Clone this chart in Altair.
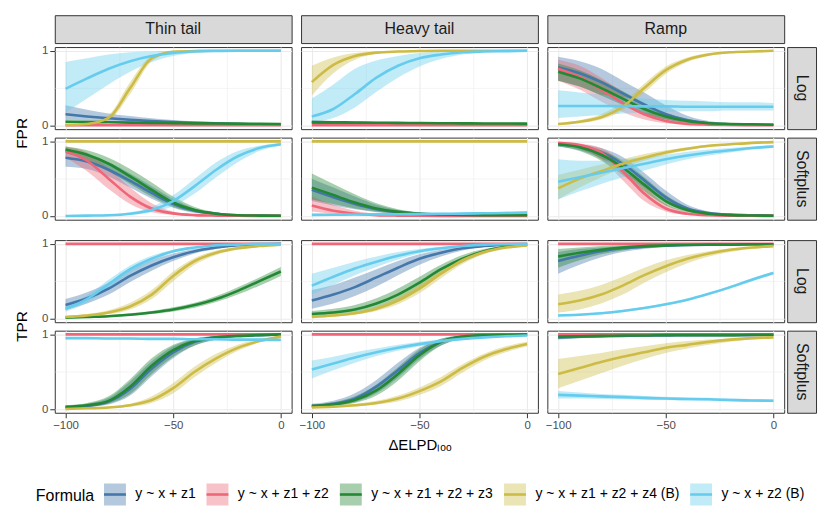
import altair as alt
import pandas as pd

X = [-100, -90, -80, -70, -60, -50, -40, -30, -20, -10, 0]
FORMULAS = ["y ~ x + z1", "y ~ x + z1 + z2", "y ~ x + z1 + z2 + z3",
            "y ~ x + z1 + z2 + z4 (B)", "y ~ x + z2 (B)"]
COLORS = ["#4477AA", "#EE6677", "#228833", "#CCBB44", "#66CCEE"]
RIBBON_COLORS = ["rgba(68,119,170,0.4)", "rgba(238,102,119,0.4)", "rgba(34,136,51,0.4)",
                 "rgba(204,187,68,0.4)", "rgba(102,204,238,0.4)"]
TAILS = ["Thin tail", "Heavy tail", "Ramp"]
LINKS = ["Log", "Softplus"]
METRICS = ["FPR", "TPR"]

# ---------------- FPR / Log ----------------
FPR_LOG_THIN_MEAN = [
    [0.15, 0.12, 0.095, 0.075, 0.058, 0.045, 0.035, 0.027, 0.02, 0.015, 0.012],
    [0.004, 0.004, 0.003, 0.003, 0.003, 0.002, 0.002, 0.002, 0.002, 0.002, 0.002],
    [0.05, 0.046, 0.042, 0.038, 0.034, 0.031, 0.028, 0.026, 0.024, 0.022, 0.02],
    [0.005, 0.02, 0.1, 0.5, 0.9, 0.985, 0.998, 1.0, 1.0, 1.0, 1.0],
    [0.49, 0.63, 0.76, 0.86, 0.93, 0.97, 0.99, 0.997, 1.0, 1.0, 1.0]]
FPR_LOG_THIN_LO = [
    [0.07, 0.06, 0.05, 0.04, 0.032, 0.025, 0.019, 0.014, 0.011, 0.008, 0.006],
    [0.0, 0.0, 0.0, 0.0, 0.0, 0.0, 0.0, 0.0, 0.0, 0.0, 0.0],
    [0.035, 0.033, 0.031, 0.028, 0.025, 0.023, 0.021, 0.019, 0.017, 0.016, 0.015],
    [0.0, 0.01, 0.07, 0.42, 0.86, 0.975, 0.995, 1.0, 1.0, 1.0, 1.0],
    [0.17, 0.36, 0.55, 0.72, 0.85, 0.93, 0.97, 0.99, 1.0, 1.0, 1.0]]
FPR_LOG_THIN_HI = [
    [0.27, 0.21, 0.16, 0.125, 0.095, 0.072, 0.055, 0.042, 0.032, 0.025, 0.02],
    [0.012, 0.01, 0.009, 0.008, 0.007, 0.006, 0.005, 0.005, 0.004, 0.004, 0.004],
    [0.065, 0.06, 0.055, 0.05, 0.045, 0.04, 0.036, 0.033, 0.031, 0.029, 0.027],
    [0.012, 0.035, 0.14, 0.58, 0.93, 0.99, 1.0, 1.0, 1.0, 1.0, 1.0],
    [0.85, 0.9, 0.95, 0.98, 0.99, 1.0, 1.0, 1.0, 1.0, 1.0, 1.0]]

FPR_LOG_HEAVY_MEAN = [
    [0.035, 0.03, 0.025, 0.021, 0.018, 0.015, 0.013, 0.012, 0.011, 0.01, 0.01],
    [0.003, 0.003, 0.003, 0.003, 0.003, 0.003, 0.003, 0.003, 0.003, 0.003, 0.003],
    [0.045, 0.042, 0.039, 0.036, 0.034, 0.032, 0.03, 0.028, 0.026, 0.025, 0.024],
    [0.58, 0.81, 0.93, 0.975, 0.99, 0.997, 1.0, 1.0, 1.0, 1.0, 1.0],
    [0.12, 0.22, 0.42, 0.64, 0.8, 0.9, 0.95, 0.98, 0.99, 0.995, 1.0]]
FPR_LOG_HEAVY_LO = [
    [0.015, 0.013, 0.011, 0.01, 0.009, 0.008, 0.007, 0.006, 0.006, 0.005, 0.005],
    [0.0, 0.0, 0.0, 0.0, 0.0, 0.0, 0.0, 0.0, 0.0, 0.0, 0.0],
    [0.03, 0.028, 0.026, 0.024, 0.023, 0.022, 0.02, 0.019, 0.018, 0.017, 0.016],
    [0.4, 0.7, 0.88, 0.96, 0.985, 0.995, 1.0, 1.0, 1.0, 1.0, 1.0],
    [0.04, 0.1, 0.24, 0.45, 0.64, 0.79, 0.89, 0.95, 0.98, 0.99, 1.0]]
FPR_LOG_HEAVY_HI = [
    [0.07, 0.058, 0.048, 0.04, 0.034, 0.029, 0.025, 0.022, 0.02, 0.018, 0.017],
    [0.01, 0.01, 0.01, 0.01, 0.01, 0.01, 0.01, 0.01, 0.01, 0.01, 0.01],
    [0.06, 0.057, 0.053, 0.05, 0.047, 0.044, 0.041, 0.039, 0.037, 0.035, 0.033],
    [0.8, 0.91, 0.97, 0.99, 1.0, 1.0, 1.0, 1.0, 1.0, 1.0, 1.0],
    [0.36, 0.55, 0.76, 0.87, 0.93, 0.97, 0.99, 1.0, 1.0, 1.0, 1.0]]

FPR_LOG_RAMP_MEAN = [
    [0.78, 0.7, 0.58, 0.43, 0.28, 0.15, 0.07, 0.03, 0.015, 0.01, 0.01],
    [0.76, 0.65, 0.48, 0.3, 0.15, 0.06, 0.02, 0.01, 0.005, 0.003, 0.002],
    [0.72, 0.63, 0.5, 0.36, 0.22, 0.12, 0.06, 0.03, 0.02, 0.015, 0.01],
    [0.02, 0.05, 0.11, 0.25, 0.5, 0.74, 0.88, 0.95, 0.98, 0.99, 1.0],
    [0.26, 0.26, 0.26, 0.26, 0.255, 0.255, 0.25, 0.25, 0.25, 0.25, 0.25]]
FPR_LOG_RAMP_LO = [
    [0.6, 0.52, 0.4, 0.28, 0.16, 0.08, 0.03, 0.01, 0.005, 0.003, 0.003],
    [0.6, 0.48, 0.32, 0.18, 0.08, 0.03, 0.01, 0.004, 0.002, 0.001, 0.001],
    [0.6, 0.52, 0.4, 0.27, 0.15, 0.08, 0.035, 0.018, 0.01, 0.008, 0.006],
    [0.01, 0.03, 0.08, 0.2, 0.44, 0.69, 0.85, 0.93, 0.97, 0.985, 0.995],
    [0.1, 0.12, 0.14, 0.16, 0.17, 0.18, 0.19, 0.19, 0.2, 0.2, 0.2]]
FPR_LOG_RAMP_HI = [
    [0.92, 0.86, 0.76, 0.6, 0.44, 0.27, 0.13, 0.06, 0.03, 0.02, 0.02],
    [0.88, 0.8, 0.64, 0.45, 0.26, 0.12, 0.05, 0.02, 0.01, 0.006, 0.004],
    [0.83, 0.74, 0.61, 0.46, 0.3, 0.17, 0.09, 0.045, 0.03, 0.022, 0.016],
    [0.03, 0.07, 0.15, 0.31, 0.56, 0.79, 0.91, 0.97, 0.99, 0.995, 1.0],
    [0.47, 0.44, 0.41, 0.38, 0.36, 0.34, 0.33, 0.32, 0.31, 0.31, 0.3]]

# ---------------- FPR / Softplus ----------------
FPR_SOFT_THIN_MEAN = [
    [0.78, 0.73, 0.62, 0.47, 0.31, 0.16, 0.07, 0.03, 0.01, 0.005, 0.003],
    [0.87, 0.74, 0.5, 0.26, 0.1, 0.035, 0.012, 0.005, 0.002, 0.001, 0.001],
    [0.89, 0.82, 0.7, 0.53, 0.35, 0.18, 0.08, 0.03, 0.01, 0.005, 0.003],
    [1.0, 1.0, 1.0, 1.0, 1.0, 1.0, 1.0, 1.0, 1.0, 1.0, 1.0],
    [0.0, 0.005, 0.01, 0.03, 0.08, 0.2, 0.4, 0.62, 0.8, 0.91, 0.96]]
FPR_SOFT_THIN_LO = [
    [0.66, 0.63, 0.53, 0.38, 0.23, 0.11, 0.04, 0.015, 0.005, 0.002, 0.001],
    [0.78, 0.6, 0.36, 0.16, 0.05, 0.015, 0.005, 0.002, 0.001, 0.0, 0.0],
    [0.84, 0.75, 0.6, 0.43, 0.26, 0.12, 0.05, 0.02, 0.005, 0.002, 0.001],
    [0.995, 0.995, 0.995, 0.995, 0.995, 0.995, 0.995, 0.995, 0.995, 0.995, 0.995],
    [0.0, 0.002, 0.005, 0.015, 0.05, 0.13, 0.3, 0.52, 0.72, 0.87, 0.94]]
FPR_SOFT_THIN_HI = [
    [0.86, 0.82, 0.72, 0.57, 0.4, 0.23, 0.1, 0.045, 0.02, 0.01, 0.006],
    [0.93, 0.85, 0.64, 0.38, 0.17, 0.06, 0.02, 0.008, 0.004, 0.002, 0.002],
    [0.93, 0.88, 0.78, 0.63, 0.45, 0.26, 0.12, 0.05, 0.02, 0.01, 0.006],
    [1.0, 1.0, 1.0, 1.0, 1.0, 1.0, 1.0, 1.0, 1.0, 1.0, 1.0],
    [0.01, 0.01, 0.02, 0.05, 0.12, 0.28, 0.5, 0.72, 0.87, 0.94, 0.98]]

FPR_SOFT_HEAVY_MEAN = [
    [0.35, 0.25, 0.16, 0.09, 0.05, 0.028, 0.018, 0.013, 0.01, 0.01, 0.01],
    [0.14, 0.07, 0.03, 0.012, 0.005, 0.002, 0.001, 0.001, 0.001, 0.001, 0.001],
    [0.38, 0.28, 0.18, 0.1, 0.055, 0.03, 0.02, 0.015, 0.012, 0.01, 0.01],
    [1.0, 1.0, 1.0, 1.0, 1.0, 1.0, 1.0, 1.0, 1.0, 1.0, 1.0],
    [0.015, 0.017, 0.019, 0.021, 0.023, 0.026, 0.029, 0.032, 0.036, 0.04, 0.045]]
FPR_SOFT_HEAVY_LO = [
    [0.2, 0.14, 0.09, 0.05, 0.025, 0.014, 0.009, 0.006, 0.005, 0.005, 0.005],
    [0.06, 0.03, 0.01, 0.004, 0.001, 0.0, 0.0, 0.0, 0.0, 0.0, 0.0],
    [0.22, 0.16, 0.1, 0.055, 0.03, 0.015, 0.01, 0.008, 0.006, 0.005, 0.005],
    [0.995, 0.995, 0.995, 0.995, 0.995, 0.995, 0.995, 0.995, 0.995, 0.995, 0.995],
    [0.005, 0.006, 0.008, 0.01, 0.012, 0.014, 0.016, 0.019, 0.022, 0.025, 0.028]]
FPR_SOFT_HEAVY_HI = [
    [0.5, 0.38, 0.26, 0.15, 0.08, 0.045, 0.03, 0.02, 0.016, 0.015, 0.015],
    [0.26, 0.15, 0.07, 0.03, 0.012, 0.006, 0.003, 0.002, 0.002, 0.002, 0.002],
    [0.57, 0.43, 0.29, 0.17, 0.09, 0.05, 0.03, 0.022, 0.018, 0.015, 0.015],
    [1.0, 1.0, 1.0, 1.0, 1.0, 1.0, 1.0, 1.0, 1.0, 1.0, 1.0],
    [0.03, 0.032, 0.034, 0.036, 0.038, 0.041, 0.044, 0.048, 0.052, 0.057, 0.063]]

FPR_SOFT_RAMP_MEAN = [
    [0.96, 0.93, 0.85, 0.7, 0.48, 0.25, 0.1, 0.04, 0.018, 0.01, 0.007],
    [0.98, 0.95, 0.85, 0.6, 0.3, 0.1, 0.03, 0.01, 0.004, 0.002, 0.001],
    [0.96, 0.92, 0.82, 0.65, 0.42, 0.2, 0.08, 0.03, 0.012, 0.006, 0.004],
    [0.37, 0.5, 0.6, 0.7, 0.78, 0.85, 0.9, 0.94, 0.96, 0.98, 0.99],
    [0.46, 0.52, 0.58, 0.64, 0.7, 0.76, 0.81, 0.85, 0.88, 0.91, 0.93]]
FPR_SOFT_RAMP_LO = [
    [0.93, 0.88, 0.77, 0.6, 0.38, 0.18, 0.06, 0.025, 0.01, 0.005, 0.003],
    [0.96, 0.9, 0.76, 0.48, 0.2, 0.06, 0.015, 0.005, 0.002, 0.001, 0.0],
    [0.93, 0.87, 0.74, 0.55, 0.33, 0.14, 0.05, 0.018, 0.007, 0.003, 0.002],
    [0.22, 0.38, 0.52, 0.64, 0.74, 0.82, 0.88, 0.92, 0.95, 0.97, 0.98],
    [0.22, 0.33, 0.43, 0.52, 0.61, 0.69, 0.76, 0.81, 0.85, 0.89, 0.91]]
FPR_SOFT_RAMP_HI = [
    [0.98, 0.96, 0.91, 0.79, 0.58, 0.34, 0.15, 0.06, 0.027, 0.015, 0.01],
    [0.99, 0.97, 0.91, 0.7, 0.4, 0.16, 0.05, 0.017, 0.007, 0.003, 0.002],
    [0.98, 0.95, 0.88, 0.74, 0.52, 0.28, 0.12, 0.045, 0.018, 0.009, 0.006],
    [0.55, 0.62, 0.69, 0.76, 0.83, 0.88, 0.92, 0.95, 0.97, 0.985, 0.995],
    [0.76, 0.74, 0.74, 0.76, 0.79, 0.82, 0.86, 0.89, 0.91, 0.93, 0.95]]

# ---------------- TPR / Log ----------------
TPR_LOG_THIN_MEAN = [
    [0.18, 0.27, 0.4, 0.57, 0.71, 0.82, 0.9, 0.95, 0.98, 0.99, 1.0],
    [1.0, 1.0, 1.0, 1.0, 1.0, 1.0, 1.0, 1.0, 1.0, 1.0, 1.0],
    [0.01, 0.02, 0.03, 0.05, 0.08, 0.12, 0.18, 0.26, 0.37, 0.5, 0.63],
    [0.02, 0.04, 0.08, 0.16, 0.32, 0.57, 0.77, 0.88, 0.94, 0.97, 0.99],
    [0.13, 0.26, 0.46, 0.66, 0.8, 0.9, 0.95, 0.98, 0.99, 1.0, 1.0]]
TPR_LOG_THIN_LO = [
    [0.11, 0.2, 0.32, 0.49, 0.64, 0.77, 0.87, 0.93, 0.97, 0.985, 0.995],
    [0.998, 0.998, 0.998, 0.998, 0.998, 0.998, 0.998, 0.998, 0.998, 0.998, 0.998],
    [0.005, 0.012, 0.02, 0.035, 0.06, 0.095, 0.145, 0.22, 0.32, 0.44, 0.57],
    [0.01, 0.025, 0.055, 0.12, 0.26, 0.5, 0.72, 0.85, 0.92, 0.96, 0.985],
    [0.09, 0.21, 0.4, 0.61, 0.76, 0.88, 0.94, 0.97, 0.99, 0.995, 1.0]]
TPR_LOG_THIN_HI = [
    [0.26, 0.35, 0.48, 0.65, 0.78, 0.87, 0.93, 0.97, 0.99, 0.995, 1.0],
    [1.0, 1.0, 1.0, 1.0, 1.0, 1.0, 1.0, 1.0, 1.0, 1.0, 1.0],
    [0.02, 0.03, 0.045, 0.07, 0.1, 0.15, 0.21, 0.3, 0.42, 0.55, 0.69],
    [0.035, 0.06, 0.11, 0.21, 0.38, 0.63, 0.81, 0.91, 0.96, 0.98, 0.995],
    [0.17, 0.31, 0.52, 0.71, 0.84, 0.92, 0.96, 0.99, 1.0, 1.0, 1.0]]

TPR_LOG_HEAVY_MEAN = [
    [0.24, 0.32, 0.42, 0.55, 0.68, 0.8, 0.88, 0.94, 0.97, 0.99, 0.995],
    [1.0, 1.0, 1.0, 1.0, 1.0, 1.0, 1.0, 1.0, 1.0, 1.0, 1.0],
    [0.06, 0.08, 0.12, 0.2, 0.32, 0.48, 0.66, 0.8, 0.9, 0.96, 0.99],
    [0.02, 0.04, 0.07, 0.13, 0.24, 0.4, 0.6, 0.78, 0.89, 0.95, 0.98],
    [0.44, 0.56, 0.67, 0.76, 0.84, 0.9, 0.94, 0.97, 0.99, 0.995, 1.0]]
TPR_LOG_HEAVY_LO = [
    [0.13, 0.2, 0.3, 0.43, 0.58, 0.72, 0.83, 0.91, 0.96, 0.98, 0.99],
    [0.998, 0.998, 0.998, 0.998, 0.998, 0.998, 0.998, 0.998, 0.998, 0.998, 0.998],
    [0.03, 0.05, 0.08, 0.14, 0.25, 0.4, 0.59, 0.75, 0.87, 0.94, 0.98],
    [0.01, 0.025, 0.05, 0.1, 0.19, 0.34, 0.54, 0.73, 0.86, 0.93, 0.97],
    [0.32, 0.45, 0.58, 0.69, 0.79, 0.87, 0.92, 0.96, 0.98, 0.99, 1.0]]
TPR_LOG_HEAVY_HI = [
    [0.38, 0.45, 0.55, 0.66, 0.77, 0.86, 0.92, 0.96, 0.98, 0.995, 1.0],
    [1.0, 1.0, 1.0, 1.0, 1.0, 1.0, 1.0, 1.0, 1.0, 1.0, 1.0],
    [0.1, 0.13, 0.18, 0.27, 0.4, 0.56, 0.72, 0.85, 0.93, 0.97, 0.995],
    [0.035, 0.055, 0.09, 0.16, 0.29, 0.46, 0.66, 0.82, 0.92, 0.97, 0.99],
    [0.6, 0.68, 0.76, 0.83, 0.89, 0.93, 0.96, 0.98, 0.995, 1.0, 1.0]]

TPR_LOG_RAMP_MEAN = [
    [0.77, 0.84, 0.9, 0.94, 0.96, 0.975, 0.985, 0.99, 0.99, 0.995, 0.995],
    [1.0, 1.0, 1.0, 1.0, 1.0, 1.0, 1.0, 1.0, 1.0, 1.0, 1.0],
    [0.83, 0.88, 0.92, 0.95, 0.97, 0.98, 0.985, 0.99, 0.99, 0.995, 0.995],
    [0.19, 0.24, 0.32, 0.44, 0.58, 0.7, 0.8, 0.87, 0.92, 0.95, 0.97],
    [0.04, 0.05, 0.07, 0.1, 0.14, 0.19, 0.25, 0.33, 0.42, 0.52, 0.61]]
TPR_LOG_RAMP_LO = [
    [0.6, 0.72, 0.82, 0.89, 0.93, 0.96, 0.975, 0.985, 0.99, 0.99, 0.99],
    [0.998, 0.998, 0.998, 0.998, 0.998, 0.998, 0.998, 0.998, 0.998, 0.998, 0.998],
    [0.68, 0.78, 0.86, 0.91, 0.95, 0.97, 0.98, 0.985, 0.99, 0.99, 0.99],
    [0.08, 0.12, 0.2, 0.32, 0.48, 0.62, 0.74, 0.83, 0.89, 0.93, 0.96],
    [0.025, 0.035, 0.055, 0.085, 0.125, 0.175, 0.235, 0.315, 0.4, 0.5, 0.59]]
TPR_LOG_RAMP_HI = [
    [0.89, 0.93, 0.95, 0.97, 0.98, 0.99, 0.99, 0.995, 1.0, 1.0, 1.0],
    [1.0, 1.0, 1.0, 1.0, 1.0, 1.0, 1.0, 1.0, 1.0, 1.0, 1.0],
    [0.93, 0.95, 0.97, 0.98, 0.99, 0.99, 0.995, 0.995, 1.0, 1.0, 1.0],
    [0.32, 0.37, 0.45, 0.56, 0.68, 0.78, 0.85, 0.9, 0.94, 0.96, 0.98],
    [0.055, 0.065, 0.085, 0.115, 0.155, 0.205, 0.265, 0.345, 0.44, 0.54, 0.63]]

# ---------------- TPR / Softplus ----------------
TPR_SOFT_THIN_MEAN = [
    [0.02, 0.04, 0.1, 0.27, 0.54, 0.76, 0.9, 0.96, 0.98, 0.99, 1.0],
    [1.0, 1.0, 1.0, 1.0, 1.0, 1.0, 1.0, 1.0, 1.0, 1.0, 1.0],
    [0.03, 0.05, 0.11, 0.3, 0.58, 0.79, 0.91, 0.96, 0.98, 0.99, 1.0],
    [0.0, 0.01, 0.02, 0.05, 0.12, 0.28, 0.5, 0.68, 0.82, 0.91, 0.97],
    [0.95, 0.95, 0.945, 0.945, 0.94, 0.94, 0.935, 0.935, 0.93, 0.93, 0.925]]
TPR_SOFT_THIN_LO = [
    [0.01, 0.025, 0.06, 0.18, 0.44, 0.68, 0.85, 0.93, 0.97, 0.985, 0.995],
    [0.998, 0.998, 0.998, 0.998, 0.998, 0.998, 0.998, 0.998, 0.998, 0.998, 0.998],
    [0.02, 0.03, 0.07, 0.2, 0.47, 0.7, 0.85, 0.93, 0.97, 0.985, 0.995],
    [0.0, 0.005, 0.01, 0.03, 0.08, 0.21, 0.43, 0.62, 0.78, 0.89, 0.95],
    [0.935, 0.935, 0.93, 0.93, 0.925, 0.925, 0.92, 0.92, 0.915, 0.915, 0.91]]
TPR_SOFT_THIN_HI = [
    [0.04, 0.07, 0.15, 0.37, 0.64, 0.84, 0.94, 0.98, 0.99, 1.0, 1.0],
    [1.0, 1.0, 1.0, 1.0, 1.0, 1.0, 1.0, 1.0, 1.0, 1.0, 1.0],
    [0.05, 0.08, 0.17, 0.4, 0.68, 0.86, 0.95, 0.98, 0.99, 1.0, 1.0],
    [0.01, 0.02, 0.035, 0.07, 0.17, 0.35, 0.57, 0.74, 0.86, 0.94, 0.98],
    [0.965, 0.965, 0.96, 0.96, 0.955, 0.955, 0.95, 0.95, 0.945, 0.945, 0.94]]

TPR_SOFT_HEAVY_MEAN = [
    [0.04, 0.07, 0.14, 0.3, 0.52, 0.75, 0.9, 0.97, 0.99, 0.995, 1.0],
    [1.0, 1.0, 1.0, 1.0, 1.0, 1.0, 1.0, 1.0, 1.0, 1.0, 1.0],
    [0.04, 0.06, 0.12, 0.25, 0.47, 0.72, 0.9, 0.97, 0.99, 0.995, 1.0],
    [0.02, 0.03, 0.05, 0.08, 0.14, 0.24, 0.37, 0.55, 0.7, 0.8, 0.87],
    [0.53, 0.61, 0.69, 0.76, 0.82, 0.87, 0.91, 0.94, 0.96, 0.975, 0.985]]
TPR_SOFT_HEAVY_LO = [
    [0.02, 0.04, 0.09, 0.21, 0.42, 0.67, 0.85, 0.95, 0.98, 0.99, 0.995],
    [0.998, 0.998, 0.998, 0.998, 0.998, 0.998, 0.998, 0.998, 0.998, 0.998, 0.998],
    [0.02, 0.04, 0.08, 0.18, 0.38, 0.64, 0.85, 0.95, 0.98, 0.99, 0.995],
    [0.01, 0.02, 0.035, 0.06, 0.1, 0.19, 0.31, 0.49, 0.65, 0.76, 0.84],
    [0.41, 0.52, 0.62, 0.71, 0.78, 0.84, 0.89, 0.92, 0.95, 0.965, 0.975]]
TPR_SOFT_HEAVY_HI = [
    [0.07, 0.11, 0.21, 0.39, 0.62, 0.82, 0.94, 0.985, 0.995, 1.0, 1.0],
    [1.0, 1.0, 1.0, 1.0, 1.0, 1.0, 1.0, 1.0, 1.0, 1.0, 1.0],
    [0.06, 0.09, 0.17, 0.33, 0.56, 0.8, 0.94, 0.985, 0.995, 1.0, 1.0],
    [0.03, 0.045, 0.07, 0.11, 0.18, 0.29, 0.43, 0.6, 0.74, 0.84, 0.9],
    [0.65, 0.7, 0.76, 0.81, 0.86, 0.9, 0.93, 0.95, 0.97, 0.985, 0.995]]

TPR_SOFT_RAMP_MEAN = [
    [0.96, 0.97, 0.975, 0.98, 0.985, 0.985, 0.99, 0.99, 0.99, 0.99, 0.995],
    [1.0, 1.0, 1.0, 1.0, 1.0, 1.0, 1.0, 1.0, 1.0, 1.0, 1.0],
    [0.97, 0.975, 0.98, 0.985, 0.985, 0.99, 0.99, 0.99, 0.99, 0.995, 0.995],
    [0.47, 0.55, 0.63, 0.7, 0.76, 0.82, 0.86, 0.9, 0.93, 0.95, 0.96],
    [0.19, 0.18, 0.17, 0.16, 0.15, 0.14, 0.135, 0.13, 0.12, 0.115, 0.11]]
TPR_SOFT_RAMP_LO = [
    [0.93, 0.95, 0.96, 0.97, 0.975, 0.98, 0.985, 0.985, 0.985, 0.985, 0.99],
    [0.998, 0.998, 0.998, 0.998, 0.998, 0.998, 0.998, 0.998, 0.998, 0.998, 0.998],
    [0.94, 0.955, 0.965, 0.975, 0.98, 0.985, 0.985, 0.985, 0.985, 0.99, 0.99],
    [0.28, 0.38, 0.48, 0.58, 0.67, 0.75, 0.81, 0.86, 0.9, 0.93, 0.95],
    [0.14, 0.14, 0.135, 0.13, 0.125, 0.12, 0.115, 0.11, 0.1, 0.095, 0.09]]
TPR_SOFT_RAMP_HI = [
    [0.98, 0.985, 0.99, 0.99, 0.995, 0.995, 0.995, 0.995, 0.995, 0.995, 1.0],
    [1.0, 1.0, 1.0, 1.0, 1.0, 1.0, 1.0, 1.0, 1.0, 1.0, 1.0],
    [0.99, 0.99, 0.99, 0.995, 0.995, 0.995, 0.995, 0.995, 0.995, 1.0, 1.0],
    [0.67, 0.71, 0.75, 0.8, 0.84, 0.88, 0.91, 0.93, 0.95, 0.965, 0.975],
    [0.24, 0.22, 0.2, 0.19, 0.175, 0.165, 0.155, 0.15, 0.14, 0.135, 0.13]]

PANELS = {
    ("FPR", "Log", "Thin tail"): (FPR_LOG_THIN_MEAN, FPR_LOG_THIN_LO, FPR_LOG_THIN_HI),
    ("FPR", "Log", "Heavy tail"): (FPR_LOG_HEAVY_MEAN, FPR_LOG_HEAVY_LO, FPR_LOG_HEAVY_HI),
    ("FPR", "Log", "Ramp"): (FPR_LOG_RAMP_MEAN, FPR_LOG_RAMP_LO, FPR_LOG_RAMP_HI),
    ("FPR", "Softplus", "Thin tail"): (FPR_SOFT_THIN_MEAN, FPR_SOFT_THIN_LO, FPR_SOFT_THIN_HI),
    ("FPR", "Softplus", "Heavy tail"): (FPR_SOFT_HEAVY_MEAN, FPR_SOFT_HEAVY_LO, FPR_SOFT_HEAVY_HI),
    ("FPR", "Softplus", "Ramp"): (FPR_SOFT_RAMP_MEAN, FPR_SOFT_RAMP_LO, FPR_SOFT_RAMP_HI),
    ("TPR", "Log", "Thin tail"): (TPR_LOG_THIN_MEAN, TPR_LOG_THIN_LO, TPR_LOG_THIN_HI),
    ("TPR", "Log", "Heavy tail"): (TPR_LOG_HEAVY_MEAN, TPR_LOG_HEAVY_LO, TPR_LOG_HEAVY_HI),
    ("TPR", "Log", "Ramp"): (TPR_LOG_RAMP_MEAN, TPR_LOG_RAMP_LO, TPR_LOG_RAMP_HI),
    ("TPR", "Softplus", "Thin tail"): (TPR_SOFT_THIN_MEAN, TPR_SOFT_THIN_LO, TPR_SOFT_THIN_HI),
    ("TPR", "Softplus", "Heavy tail"): (TPR_SOFT_HEAVY_MEAN, TPR_SOFT_HEAVY_LO, TPR_SOFT_HEAVY_HI),
    ("TPR", "Softplus", "Ramp"): (TPR_SOFT_RAMP_MEAN, TPR_SOFT_RAMP_LO, TPR_SOFT_RAMP_HI),
}

# ---------------- layout / style ----------------
W, H, HGAP, VGAP = 238, 82.5, 9.5, 8.5
SH, SW, LW, S = 28, 29, 14, 10
LABEL_OVERFLOW = 2.75       # y tick labels "0"/"1" poke outside each panel's box
FONT = "Liberation Sans"
XSCALE = alt.Scale(domain=[-105, 5], nice=False, zero=False)
YSCALE = alt.Scale(domain=[-0.05, 1.05], nice=False, zero=False)
MAJOR_X = "abs(datum.value) % 50 === 0"
MAJOR_Y = "datum.value !== 0.5"
KEY = 22  # legend key side in px
# key = filled square; the dashed stroke only draws its first segment (the middle line)
KEY_PATH = "M-1,0H1V1H-1V-1H1V0"

FILL_LEGEND = alt.Legend(
    orient="none", legendX=21, legendY=469, direction="horizontal",
    title="Formula", titleOrient="left", titleFontSize=16, titleFontWeight="normal",
    titleColor="#000000", titlePadding=8, titleBaseline="middle",
    symbolType=KEY_PATH, symbolSize=KEY * KEY, symbolStrokeWidth=2.6,
    symbolDash=[KEY, 1000],
    symbolStrokeColor=alt.ExprRef(expr="scale('stroke', datum.value)"),
    labelFontSize=14, labelColor="#000000", labelOffset=8, columnPadding=5)


def xaxis(show, title):
    return alt.Axis(
        values=[-100, -75, -50, -25, 0], labels=show, ticks=show, domain=False,
        title=title, titleFontSize=15, titleFontWeight="normal", titleColor="#000000",
        titlePadding=6, labelFlush=False, labelOverlap=False,
        labelExpr=f"{MAJOR_X} ? datum.label : ''",
        labelFontSize=11.5, labelColor="#4D4D4D", labelPadding=2,
        tickSize=5, tickColor="#333333",
        tickOpacity={"condition": {"test": MAJOR_X, "value": 1}, "value": 0},
        gridColor="#EBEBEB",
        gridWidth={"condition": {"test": MAJOR_X, "value": 1.1}, "value": 0.55})


def yaxis(show):
    return alt.Axis(
        values=[0, 0.5, 1], labels=show, ticks=show, domain=False, title=None,
        labelFlush=False, labelOverlap=False,
        labelExpr="datum.value === 0 ? '0' : datum.value === 1 ? '1' : ''",
        labelFontSize=11.5, labelColor="#4D4D4D", labelPadding=2,
        tickSize=5, tickColor="#333333",
        tickOpacity={"condition": {"test": MAJOR_Y, "value": 1}, "value": 0},
        gridColor="#EBEBEB",
        gridWidth={"condition": {"test": MAJOR_Y, "value": 1.1}, "value": 0.55})


def panel_df(key):
    mean, lo, hi = PANELS[key]
    rows = []
    for i, f in enumerate(FORMULAS):
        for j, x in enumerate(X):
            rows.append({"x": x, "Formula": f, "mean": mean[i][j], "lo": lo[i][j], "hi": hi[i][j]})
    return pd.DataFrame(rows)


def panel(key, show_y, show_x, xtitle):
    base = alt.Chart(panel_df(key))
    band = base.mark_area(interpolate="monotone").encode(
        x=alt.X("x:Q", scale=XSCALE, axis=xaxis(show_x, xtitle)),
        y=alt.Y("lo:Q", scale=YSCALE, axis=yaxis(show_y)),
        y2="hi:Q",
        fill=alt.Fill("Formula:N", scale=alt.Scale(domain=FORMULAS, range=RIBBON_COLORS),
                      legend=FILL_LEGEND),
    )
    line = base.mark_line(strokeWidth=2.6, interpolate="monotone").encode(
        x=alt.X("x:Q", scale=XSCALE, axis=xaxis(show_x, xtitle)),
        y=alt.Y("mean:Q", scale=YSCALE, axis=yaxis(show_y)),
        stroke=alt.Stroke("Formula:N", scale=alt.Scale(domain=FORMULAS, range=COLORS),
                          legend=None),
    )
    return alt.layer(band, line).properties(width=W, height=H)


STRIP_VIEW = alt.ViewBackground(fill="#D9D9D9", stroke="#333333", strokeWidth=1)
BLANK_VIEW = alt.ViewBackground(stroke="transparent")


def top_strip(label, with_axis):
    c = alt.Chart(pd.DataFrame({"t": [label]})).mark_text(
        fontSize=16, color="#1A1A1A", baseline="middle")
    if with_axis:
        c = c.encode(
            text="t:N",
            y=alt.YDatum(0.5, scale=alt.Scale(domain=[0, 1]),
                         axis=alt.Axis(values=[0.5], labelExpr="'1'", labelColor="transparent",
                                       tickColor="transparent", tickSize=5, labelPadding=2,
                                       labelFontSize=11.5, domain=False, grid=False, title=None)))
    else:
        c = c.encode(text="t:N")
    return c.properties(width=W, height=SH, view=STRIP_VIEW)


def right_strip(label):
    return alt.Chart(pd.DataFrame({"t": [label]})).mark_text(
        fontSize=16, color="#1A1A1A", angle=90, baseline="middle").encode(
        text="t:N").properties(width=SW, height=H, view=STRIP_VIEW)


def ylab(label, h):
    return alt.Chart(pd.DataFrame({"t": [label]})).mark_text(
        fontSize=15.5, color="#000000", angle=270, baseline="middle").encode(
        text="t:N").properties(width=LW, height=h, view=BLANK_VIEW)


def row(metric, link, last):
    panels = [panel((metric, link, tail), k == 0, last, ("ΔELPDₗₒₒ" if (last and k == 1) else None))
              for k, tail in enumerate(TAILS)]
    return alt.hconcat(alt.hconcat(*panels, spacing=HGAP, bounds="flush"),
                       right_strip(link), spacing=1)


spacer = ylab("", SH)
R0 = alt.hconcat(spacer,
                 alt.hconcat(top_strip(TAILS[0], True), top_strip(TAILS[1], False),
                             top_strip(TAILS[2], False), spacing=HGAP, bounds="flush"),
                 spacing=S)
INNER = VGAP - 2 * LABEL_OVERFLOW
G1 = alt.hconcat(ylab(METRICS[0], 2 * H + VGAP),
                 alt.vconcat(row("FPR", "Log", False), row("FPR", "Softplus", False), spacing=INNER),
                 spacing=S)
G2 = alt.hconcat(ylab(METRICS[1], 2 * H + VGAP),
                 alt.vconcat(row("TPR", "Log", False), row("TPR", "Softplus", True), spacing=INNER),
                 spacing=S)

chart = alt.vconcat(alt.vconcat(R0, G1, spacing=0), G2,
                    spacing=20.5 - 2 * LABEL_OVERFLOW).properties(
    padding={"left": 6, "top": 5, "right": 5, "bottom": 5}
).configure(font=FONT).configure_view(stroke="#333333", strokeWidth=1)

chart.save("out.html", embed_options={"renderer": "svg", "actions": False})
